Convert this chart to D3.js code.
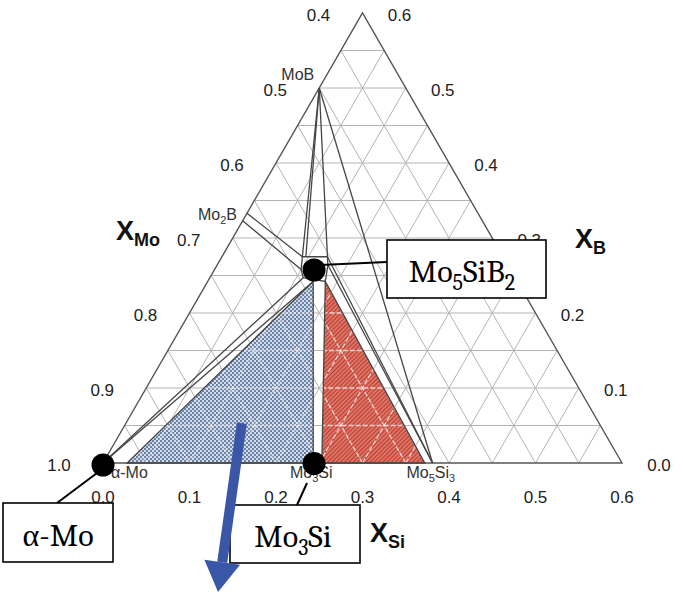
<!DOCTYPE html>
<html>
<head>
<meta charset="utf-8">
<script src="https://cdn.jsdelivr.net/npm/d3@7"></script>
<style>
	html, body {margin:0; padding:0; background:#fff;}
	svg {display:block;}
	.grid line {stroke:#b4b4b4; stroke-width:1;}
	.frame {fill:none; stroke:#555; stroke-width:1.4;}
	.tie {stroke:#454545; stroke-width:1.3; fill:none;}
	.tick {font-family:Arial, "Liberation Sans", sans-serif; font-size:17px; fill:#222;}
	.phase {font-family:Arial, "Liberation Sans", sans-serif; font-size:16px; fill:#333;}
	.axisTitle {font-family:Arial, "Liberation Sans", sans-serif; font-weight:bold; fill:#111;}
	.callout text {font-family:"Cambria", "Liberation Serif", "DejaVu Serif", serif; font-size:32px; fill:#000;}
	.callout rect {fill:#fff; stroke:#000; stroke-width:1.6;}
</style>
</head>
<body>
<svg id="chart" width="683" height="592"></svg>
<script>
//Ternary window: X_Mo from 0.4 to 1, X_Si and X_B from 0 to 0.6
var gridSteps = [0.05,0.1,0.15,0.2,0.25,0.3,0.35,0.4,0.45,0.5,0.55];
var siTicks = [0,0.1,0.2,0.3,0.4,0.5,0.6];
var bTicks = [0,0.1,0.2,0.3,0.4,0.5,0.6];
var moTicks = [1.0,0.9,0.8,0.7,0.6,0.5,0.4];

//Phase compositions [X_Si, X_B]
var phaseIds   = ['aMo','aMoSs','Mo3SiL','Mo3SiR','Mo5Si3L','Mo5Si3R','MoB','Mo2Ba','Mo2Bb','T2tl','T2tr','T2r','T2br','T2bl','T2l','T2top2','T2blue'];
var phaseSi    = [0,    0.028,  0.243,   0.253,   0.372,    0.381,    0,    0,      0,      0.093, 0.122, 0.128, 0.136, 0.108, 0.100, 0.097,   0.122];
var phaseB     = [0,    0,      0,       0,       0,        0,        0.5,  0.333,  0.323,  0.275, 0.275, 0.264, 0.242, 0.247, 0.258, 0.275,   0.242];

//Tie lines and phase field boundaries
var tieLines = [
	['MoB','T2tl'],['MoB','T2top2'],['MoB','T2tr'],['MoB','Mo5Si3R'],
	['Mo2Ba','T2tl'],['Mo2Bb','T2l'],
	['aMo','T2bl'],['aMo','T2blue'],
	['T2tr','Mo5Si3R'],['T2r','Mo5Si3R']
];
var t2Field = ['T2tl','T2tr','T2r','T2br','T2bl','T2l'];
var blueField = ['aMoSs','T2blue','Mo3SiL'];
var redField = ['Mo3SiR','T2br','Mo5Si3L'];

//Labelled phases (text parts: [string, isSubscript])
var phaseLabels = [
	{at:'MoB', parts:[['MoB',0]]},
	{at:'Mo2Ba', parts:[['Mo',0],['2',1],['B',0]]},
	{at:'aMo', parts:[['\u03b1-Mo',0]]},
	{at:'Mo3SiL', parts:[['Mo',0],['3',1],['Si',0]]},
	{at:'Mo5Si3L', parts:[['Mo',0],['5',1],['Si',0],['3',1]]}
];

//Highlighted phases with callout boxes
var markerIds = ['aMo','Mo3SiL','T2dot'];
var markerSi = [0, 0.243, 0.114];
var markerB = [0, 0.002, 0.260];
var calloutTexts = [
	[['\u03b1-Mo',0]],
	[['Mo',0],['3',1],['Si',0]],
	[['Mo',0],['5',1],['SiB',0],['2',1]]
];

//Arrow (composition space)
var arrowFrom = [0.134, 0.053];
var arrowTo = [0.219, -0.172];

var svg = d3.select('#chart');

//Scales: x runs along the Si base, y up the B height
var x = d3.scaleLinear().domain([0,0.6]).range([103,622]);
var y = d3.scaleLinear().domain([0,0.6]).range([463,13]);
function pt(si, b) { return [x(si + b/2), y(b)]; }

var comp = {};
phaseIds.forEach(function(id,i) { comp[id] = pt(phaseSi[i], phaseB[i]); });
var line = d3.line();
function poly(ids) { return line(ids.map(function(id){return comp[id];})) + 'Z'; }

//Patterns
var defs = svg.append('defs');
var stip = defs.append('pattern').attr('id','stipple')
	.attr('patternUnits','userSpaceOnUse').attr('width',4).attr('height',4);
stip.append('rect').attr('width',4).attr('height',4).attr('fill','#d3dcea');
stip.append('circle').attr('cx',1).attr('cy',1).attr('r',0.95).attr('fill','#3f5c8a');
stip.append('circle').attr('cx',3).attr('cy',3).attr('r',0.95).attr('fill','#3f5c8a');
var hatch = defs.append('pattern').attr('id','hatch')
	.attr('patternUnits','userSpaceOnUse').attr('width',3).attr('height',3)
	.attr('patternTransform','rotate(45)');
hatch.append('rect').attr('width',3).attr('height',3).attr('fill','#de7466');
hatch.append('rect').attr('width',1).attr('height',3).attr('fill','#b83d30');
defs.append('clipPath').attr('id','clipBlue').append('path').attr('d',poly(blueField));
defs.append('clipPath').attr('id','clipRed').append('path').attr('d',poly(redField));

//Grid segments
var gridSegs = [];
gridSteps.forEach(function(v) {
	gridSegs.push([pt(0,v), pt(0.6-v,v)]);
	gridSegs.push([pt(v,0), pt(v,0.6-v)]);
	gridSegs.push([pt(v,0), pt(0,v)]);
});
svg.append('g').attr('class','grid').selectAll('line')
	.data(gridSegs).enter().append('line')
	.attr('x1',function(d){return d[0][0];}).attr('y1',function(d){return d[0][1];})
	.attr('x2',function(d){return d[1][0];}).attr('y2',function(d){return d[1][1];});

//Filled three-phase fields
svg.append('path').attr('d',poly(blueField)).attr('fill','url(#stipple)');
svg.append('path').attr('d',poly(redField)).attr('fill','url(#hatch)');

//Grid shows through the fills as light dashes
[['clipBlue','3,1.5',0.6],['clipRed','5,2',0.8]].forEach(function(c) {
	svg.append('g').attr('clip-path','url(#'+c[0]+')').selectAll('line')
		.data(gridSegs).enter().append('line')
		.attr('x1',function(d){return d[0][0];}).attr('y1',function(d){return d[0][1];})
		.attr('x2',function(d){return d[1][0];}).attr('y2',function(d){return d[1][1];})
		.attr('stroke','#f6eeee').attr('stroke-width',1.3).attr('stroke-dasharray',c[1])
		.attr('stroke-opacity',c[2]);
});

//Outer frame
svg.append('path').attr('class','frame')
	.attr('d',line([pt(0,0),pt(0.6,0),pt(0,0.6)])+'Z');

//Tie lines and field outlines
svg.append('g').selectAll('line').data(tieLines).enter().append('line')
	.attr('class','tie')
	.attr('x1',function(d){return comp[d[0]][0];}).attr('y1',function(d){return comp[d[0]][1];})
	.attr('x2',function(d){return comp[d[1]][0];}).attr('y2',function(d){return comp[d[1]][1];});
[t2Field, blueField, redField].forEach(function(f) {
	svg.append('path').attr('class','tie').attr('d',poly(f));
});

//Write text made of normal and subscript parts
function writeParts(textSel, parts, subSize) {
	parts.forEach(function(p,i) {
		var prevSub = i > 0 && parts[i-1][1];
		var ts = textSel.append('tspan').text(p[0]);
		if (p[1]) ts.attr('font-size',subSize).attr('dy',subSize*0.35);
		else if (prevSub) ts.attr('dy',-subSize*0.35);
	});
}

//Tick labels
var ticks = svg.append('g');
siTicks.forEach(function(s) {
	var p = pt(s,0);
	ticks.append('text').attr('class','tick').attr('x',p[0]).attr('y',p[1]+40)
		.attr('text-anchor','middle').text(s.toFixed(1));
});
bTicks.forEach(function(b) {
	var p = pt(0.6-b,b);
	ticks.append('text').attr('class','tick').attr('x',p[0]+37).attr('y',p[1]+8)
		.attr('text-anchor','middle').text(b.toFixed(1));
});
moTicks.forEach(function(m) {
	var p = pt(0,1-m);
	ticks.append('text').attr('class','tick').attr('x',p[0]-44).attr('y',p[1]+8)
		.attr('text-anchor','middle').text(m.toFixed(1));
});

//Axis titles
function axisTitle(px, py, sub) {
	var t = svg.append('text').attr('class','axisTitle').attr('x',px).attr('y',py).attr('font-size',27);
	t.append('tspan').text('X');
	t.append('tspan').attr('font-size',18).attr('dy',6).text(sub);
}
axisTitle(116, 240, 'Mo');
axisTitle(575, 248, 'B');
axisTitle(370, 542, 'Si');

//Phase labels
var labelOffset = {MoB:[-5,-8,'end'], Mo2Ba:[-10,7,'end'], aMo:[8,15,'start'], Mo3SiL:[-2,15,'middle'], Mo5Si3L:[6,15,'middle']};
phaseLabels.forEach(function(l) {
	var p = comp[l.at], o = labelOffset[l.at];
	var t = svg.append('text').attr('class','phase')
		.attr('x',p[0]+o[0]).attr('y',p[1]+o[1]).attr('text-anchor',o[2]);
	writeParts(t, l.parts, 11);
});

//Callouts: leader line, box, text, dot
var boxes = [
	{x:3, y:503, w:110, h:59, lead:[[97,473],[57,503]], tx:58},
	{x:230, y:505, w:130, h:58, lead:[[307,483],[297,505]], tx:293},
	{x:387, y:240, w:159, h:58, lead:[[320,265],[387,262]], tx:462}
];
var callouts = svg.append('g').attr('class','callout');
boxes.forEach(function(b,i) {
	callouts.append('line').attr('x1',b.lead[0][0]).attr('y1',b.lead[0][1])
		.attr('x2',b.lead[1][0]).attr('y2',b.lead[1][1])
		.attr('stroke','#000').attr('stroke-width',2);
	callouts.append('rect').attr('x',b.x).attr('y',b.y).attr('width',b.w).attr('height',b.h);
	var t = callouts.append('text').attr('x',b.tx).attr('y',b.y+b.h-16).attr('text-anchor','middle');
	writeParts(t, calloutTexts[i], 22);
});
svg.append('g').selectAll('circle').data(markerIds).enter().append('circle')
	.attr('cx',function(d,i){return pt(markerSi[i],markerB[i])[0];})
	.attr('cy',function(d,i){return pt(markerSi[i],markerB[i])[1]+2;})
	.attr('r',11.5).attr('fill','#000');

//Blue arrow
var a0 = pt(arrowFrom[0],arrowFrom[1]), a1 = pt(arrowTo[0],arrowTo[1]);
var ang = Math.atan2(a1[1]-a0[1], a1[0]-a0[0]);
var headLen = 30, headHalf = 18;
var base = [a1[0]-headLen*Math.cos(ang), a1[1]-headLen*Math.sin(ang)];
svg.append('line').attr('x1',a0[0]).attr('y1',a0[1]).attr('x2',base[0]).attr('y2',base[1])
	.attr('stroke','#3a56a6').attr('stroke-width',10);
svg.append('path').attr('fill','#3a56a6').attr('d',line([
	a1,
	[base[0]+headHalf*Math.sin(ang), base[1]-headHalf*Math.cos(ang)],
	[base[0]-headHalf*Math.sin(ang), base[1]+headHalf*Math.cos(ang)]
])+'Z');
</script>
</body>
</html>
